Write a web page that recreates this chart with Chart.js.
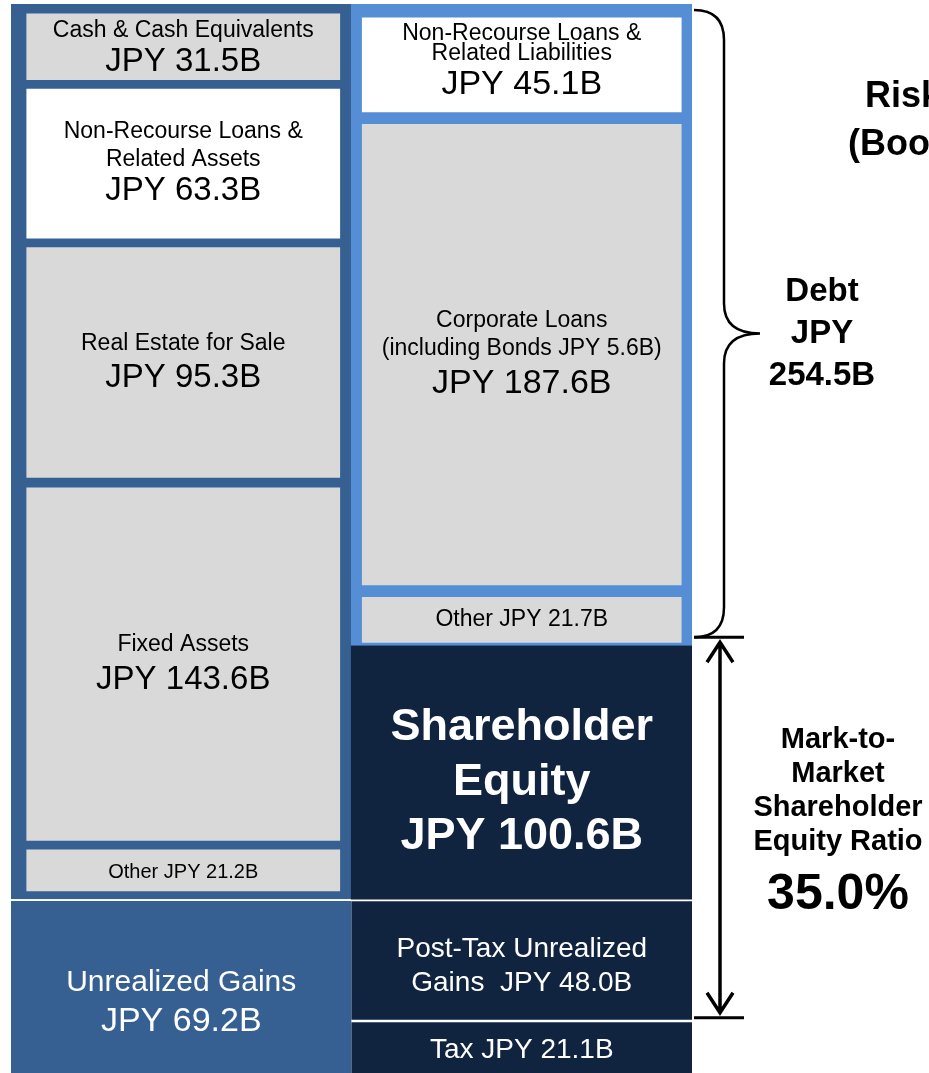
<!DOCTYPE html>
<html>
<head>
<meta charset="utf-8">
<script src="https://cdn.jsdelivr.net/npm/chart.js@4/dist/chart.umd.min.js"></script>
<style>
  html, body { margin: 0; padding: 0; background: #fff; }
  #wrap { width: 929px; height: 1073px; position: relative; }
</style>
</head>
<body>
<div id="wrap"><canvas id="bs"></canvas></div>
<script>
// Balance sheet blocks (JPY billions), top to bottom
const assetCategories = ['Cash & Cash Equivalents', 'Non-Recourse Loans &\nRelated Assets', 'Real Estate for Sale', 'Fixed Assets', 'Other', 'Unrealized Gains'];
const assetValues = [31.5, 63.3, 95.3, 143.6, 21.2, 69.2];

const liabilityCategories = ['Non-Recourse Loans &\nRelated Liabilities', 'Corporate Loans\n(including Bonds JPY 5.6B)', 'Other', 'Shareholder\nEquity', 'Post-Tax Unrealized\nGains', 'Tax'];
const liabilityValues = [45.1, 187.6, 21.7, 100.6, 48.0, 21.1];

const debtTotal = 254.5;
const equityRatio = 35.0;

const FONT = "'Liberation Sans', Arial, sans-serif";
const FRAME_DARK = '#376092';
const FRAME_LIGHT = '#558ED5';
const NAVY = '#10243F';
const GREY = '#D9D9D9';

// per-block look: inner fill, frame colour, frame widths, text layout
const assetStyles = [
  { bg: GREY, frame: FRAME_DARK, bw: { top: 10, bottom: 4, left: 16, right: 12 }, sizes: [23, 33], dys: [-16, 15] },
  { bg: '#FFFFFF', frame: FRAME_DARK, bw: { top: 6, bottom: 5, left: 16, right: 12 }, sizes: [23, 23, 33], dys: [-32, -4, 27] },
  { bg: GREY, frame: FRAME_DARK, bw: { top: 5, bottom: 6, left: 16, right: 12 }, sizes: [23, 33], dys: [-19, 15] },
  { bg: GREY, frame: FRAME_DARK, bw: { top: 5, bottom: 5, left: 16, right: 12 }, sizes: [23, 33], dys: [-19, 16] },
  { bg: GREY, frame: FRAME_DARK, bw: { top: 5, bottom: 8, left: 16, right: 12 }, sizes: [20], dys: [2], inline: ' ' },
  { bg: FRAME_DARK, frame: '#FFFFFF', bw: { top: 3, bottom: 0, left: 0, right: 0 }, sizes: [30, 34], dys: [-5, 34], color: '#FFFFFF' }
];
const liabilityStyles = [
  { bg: '#FFFFFF', frame: FRAME_LIGHT, bw: { top: 14, bottom: 6, left: 11, right: 11 }, sizes: [23, 23, 34], dys: [-31, -11, 20] },
  { bg: GREY, frame: FRAME_LIGHT, bw: { top: 7, bottom: 6, left: 11, right: 11 }, sizes: [23, 23, 34], dys: [-34, -6, 29] },
  { bg: GREY, frame: FRAME_LIGHT, bw: { top: 7, bottom: 3, left: 11, right: 11 }, sizes: [23], dys: [0], inline: ' ' },
  { bg: NAVY, frame: NAVY, bw: 0, sizes: [45, 45, 45], dys: [-44, 11, 65], color: '#FFFFFF', bold: true },
  { bg: NAVY, frame: '#FFFFFF', bw: { top: 3, bottom: 0, left: 0, right: 0 }, sizes: [28, 28], dys: [-12, 22], color: '#FFFFFF', inline: '  ' },
  { bg: NAVY, frame: '#FFFFFF', bw: { top: 3, bottom: 0, left: 0, right: 0 }, sizes: [28], dys: [2], color: '#FFFFFF', inline: ' ' }
];

const fmt = v => `JPY ${v.toFixed(1)}B`;

function blockLines(label, value, style) {
  const lines = label.split('\n');
  if (style.inline) {
    lines[lines.length - 1] += style.inline + fmt(value);
  } else {
    lines.push(fmt(value));
  }
  return lines;
}

function sideStyle(ctx) {
  const list = ctx.dataIndex === 0 ? assetStyles : liabilityStyles;
  return list[ctx.datasetIndex];
}

const datasets = assetValues.map((v, i) => ({
  label: 'block ' + i,
  data: [v, liabilityValues[i]],
  backgroundColor: ctx => sideStyle(ctx).bg,
  borderColor: ctx => sideStyle(ctx).frame,
  borderWidth: ctx => sideStyle(ctx).bw,
  borderSkipped: false,
  inflateAmount: 0.6,
  barPercentage: 1,
  categoryPercentage: 1
}));

function edges(el, bw) {
  const b = typeof bw === 'number' ? { top: bw, bottom: bw, left: bw, right: bw } : bw;
  const top = Math.min(el.y, el.base), bottom = Math.max(el.y, el.base);
  const left = el.x - el.width / 2, right = el.x + el.width / 2;
  return {
    top, bottom, left, right,
    cx: (left + b.left + right - b.right) / 2,
    cy: (top + b.top + bottom - b.bottom) / 2
  };
}

const blockLabels = {
  id: 'blockLabels',
  afterDatasetsDraw(chart) {
    const ctx = chart.ctx;
    ctx.save();
    ctx.textAlign = 'center';
    ctx.textBaseline = 'middle';
    chart.data.datasets.forEach((ds, i) => {
      const meta = chart.getDatasetMeta(i);
      [[assetCategories, assetValues, assetStyles], [liabilityCategories, liabilityValues, liabilityStyles]]
        .forEach(([cats, vals, styles], side) => {
          const st = styles[i];
          const e = edges(meta.data[side], st.bw);
          const lines = blockLines(cats[i], vals[i], st);
          ctx.fillStyle = st.color || '#000000';
          lines.forEach((t, k) => {
            ctx.font = `${st.bold ? 'bold ' : ''}${st.sizes[k]}px ${FONT}`;
            ctx.fillText(t, e.cx, e.cy + st.dys[k]);
          });
        });
    });
    ctx.restore();
  }
};

const sideNotes = {
  id: 'sideNotes',
  afterDraw(chart) {
    const ctx = chart.ctx;
    const debtTop = edges(chart.getDatasetMeta(0).data[1], 0).top;
    const equity = edges(chart.getDatasetMeta(3).data[1], 0);
    const postTax = edges(chart.getDatasetMeta(4).data[1], 0);
    const x0 = equity.right + 2;

    ctx.save();
    ctx.strokeStyle = '#000000';
    ctx.fillStyle = '#000000';

    // brace over debt
    const yT = debtTop + 6, yB = equity.top - 8, yM = (yT + yB) / 2 + 10;
    const xs = x0 + 30, xTip = x0 + 66, r = 30;
    ctx.lineWidth = 2.5;
    ctx.beginPath();
    ctx.moveTo(x0, yT);
    ctx.quadraticCurveTo(xs, yT, xs, yT + r);
    ctx.lineTo(xs, yM - r);
    ctx.quadraticCurveTo(xs, yM, xTip, yM);
    ctx.moveTo(xTip, yM);
    ctx.quadraticCurveTo(xs, yM, xs, yM + r);
    ctx.lineTo(xs, yB - r);
    ctx.quadraticCurveTo(xs, yB, x0, yB);
    ctx.stroke();

    // limit lines and double arrow for mark-to-market equity
    const yE = postTax.bottom - 2;
    ctx.lineWidth = 3;
    ctx.beginPath();
    ctx.moveTo(x0, yB); ctx.lineTo(x0 + 50, yB);
    ctx.moveTo(x0, yE); ctx.lineTo(x0 + 50, yE);
    ctx.stroke();

    const ax = x0 + 26, a1 = yB + 5, a2 = yE - 5;
    ctx.lineWidth = 3.5;
    ctx.beginPath();
    ctx.moveTo(ax, a1); ctx.lineTo(ax, a2);
    ctx.moveTo(ax - 13, a1 + 20); ctx.lineTo(ax, a1); ctx.lineTo(ax + 13, a1 + 20);
    ctx.moveTo(ax - 13, a2 - 20); ctx.lineTo(ax, a2); ctx.lineTo(ax + 13, a2 - 20);
    ctx.stroke();

    ctx.textAlign = 'center';
    ctx.textBaseline = 'middle';
    ctx.font = `bold 33px ${FONT}`;
    ['Debt', 'JPY', debtTotal.toFixed(1) + 'B'].forEach((t, k) => {
      ctx.fillText(t, x0 + 128, yM + (k - 1) * 42);
    });

    const am = (a1 + a2) / 2;
    ctx.font = `bold 29px ${FONT}`;
    ['Mark-to-', 'Market', 'Shareholder', 'Equity Ratio'].forEach((t, k) => {
      ctx.fillText(t, x0 + 144, am - 88 + k * 34);
    });
    ctx.font = `bold 50px ${FONT}`;
    ctx.fillText(equityRatio.toFixed(1) + '%', x0 + 144, am + 68);

    ctx.textAlign = 'left';
    ctx.font = `bold 36px ${FONT}`;
    ctx.fillText('Risk Assets', x0 + 171, 97);
    ctx.fillText('(Book Value)', x0 + 154, 145);
    ctx.restore();
  }
};

new Chart(document.getElementById('bs'), {
  type: 'bar',
  data: { labels: ['Assets', 'Liabilities & Equity'], datasets },
  options: {
    responsive: true,
    maintainAspectRatio: false,
    animation: false,
    events: [],
    layout: { padding: { left: 11, right: 237, top: 4, bottom: 0 } },
    plugins: { legend: { display: false }, tooltip: { enabled: false } },
    scales: {
      x: { stacked: true, display: false },
      y: {
        stacked: true,
        display: false,
        reverse: true,
        min: 0,
        max: assetValues.reduce((a, b) => a + b, 0)
      }
    }
  },
  plugins: [blockLabels, sideNotes]
});
</script>
</body>
</html>
